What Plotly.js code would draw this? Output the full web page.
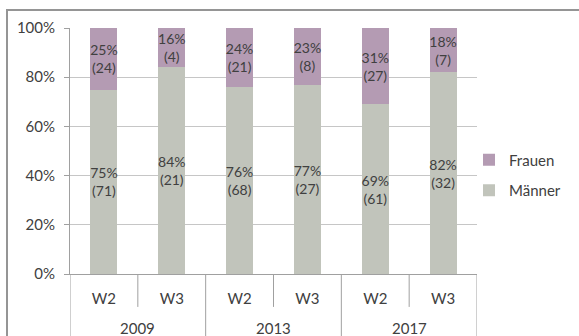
<!DOCTYPE html>
<html>
<head>
<meta charset="utf-8">
<script src="https://cdn.plot.ly/plotly-3.0.1.min.js"></script>
<style>
html,body{margin:0;padding:0;background:#fff;overflow:hidden;}
#chart{width:579px;height:336px;position:absolute;left:0;top:0;}
#frame{position:absolute;left:6px;top:9px;width:700px;height:500px;border:2px solid #959595;pointer-events:none;box-sizing:border-box;}
</style>
</head>
<body>
<div id="chart"></div>
<div id="frame"></div>
<script>
const years = ['2009','2009','2013','2013','2017','2017'];
const waves = ['W2','W3','W2','W3','W2','W3'];
const maennerPct = [75,84,76,77,69,82];
const maennerN = [71,21,68,27,61,32];
const frauenPct = [25,16,24,23,31,18];
const frauenN = [24,4,21,8,27,7];

const font = 'Lato, "Open Sans", sans-serif';
const txtColor = '#404040';
const lineColor = '#A0A0A0';
const plotH = 246.6;
const plotW = 407;

const idx = waves.map((_, i) => i);

const mk = (name, pct, n, color) => ({
  type: 'bar',
  name: name,
  legendgroup: name,
  x: idx,
  y: pct,
  width: 0.4,
  text: pct.map((p, i) => p + '%<br>(' + n[i] + ')'),
  textposition: 'inside',
  insidetextanchor: 'middle',
  textangle: 0,
  textfont: {family: font, size: 14, color: txtColor},
  marker: {color: color, line: {width: 0}},
  hoverinfo: 'none'
});

const data = [
  mk('Männer', maennerPct, maennerN, '#C1C4BB'),
  mk('Frauen', frauenPct, frauenN, '#B49BB3')
];
data[0].legendrank = 2;
data[1].legendrank = 1;

// group boundaries (where the year changes) and inner boundaries
const groupBounds = [-0.5];
const innerBounds = [];
for (let i = 1; i < years.length; i++) {
  if (years[i] !== years[i - 1]) groupBounds.push(i - 0.5);
  else innerBounds.push(i - 0.5);
}
groupBounds.push(years.length - 0.5);

const yearLabels = [];
for (let g = 0; g < groupBounds.length - 1; g++) {
  const a = groupBounds[g], b = groupBounds[g + 1];
  yearLabels.push({
    text: years[Math.ceil(a)],
    x: (a + b) / 2, xref: 'x',
    y: -54 / plotH, yref: 'paper', yanchor: 'middle',
    showarrow: false,
    font: {family: font, size: 15, color: txtColor}
  });
}

const shapes = [];
groupBounds.forEach(v => shapes.push({
  type: 'line', xref: 'x', yref: 'paper', x0: v, x1: v, y0: 0, y1: -80 / plotH,
  line: {color: lineColor, width: 1}
}));
innerBounds.forEach(v => shapes.push({
  type: 'line', xref: 'x', yref: 'paper', x0: v, x1: v, y0: 0, y1: -33 / plotH,
  line: {color: lineColor, width: 1}
}));

const layout = {
  width: 579, height: 336,
  margin: {l: 70, r: 102, t: 28, b: 62},
  paper_bgcolor: '#fff', plot_bgcolor: '#fff',
  barmode: 'stack',
  uniformtext: {mode: 'show', minsize: 14},
  font: {family: font, size: 15, color: txtColor},
  showlegend: true,
  legend: {
    x: (469 - 70) / plotW, xanchor: 'left',
    y: (274.3 - 175) / plotH, yanchor: 'middle',
    traceorder: 'grouped', tracegroupgap: 8,
    font: {family: font, size: 15, color: txtColor},
    itemwidth: 30, bgcolor: 'rgba(0,0,0,0)'
  },
  xaxis: {
    range: [-0.5, years.length - 0.5],
    tickvals: idx, ticktext: waves,
    showline: true, linecolor: lineColor, linewidth: 1,
    ticks: '', showgrid: false, zeroline: false,
    ticklabelstandoff: 11,
    tickfont: {family: font, size: 15, color: txtColor}
  },
  yaxis: {
    range: [0, 100], dtick: 20, ticksuffix: '%',
    showline: true, linecolor: lineColor, linewidth: 1,
    ticks: 'outside', ticklen: 5, tickcolor: lineColor,
    gridcolor: '#C6C6C6', gridwidth: 1, zeroline: false,
    ticklabelstandoff: 6,
    tickfont: {family: font, size: 15, color: txtColor}
  },
  annotations: yearLabels,
  shapes: shapes
};

Plotly.newPlot('chart', data, layout, {displayModeBar: false, staticPlot: true});
</script>
</body>
</html>
